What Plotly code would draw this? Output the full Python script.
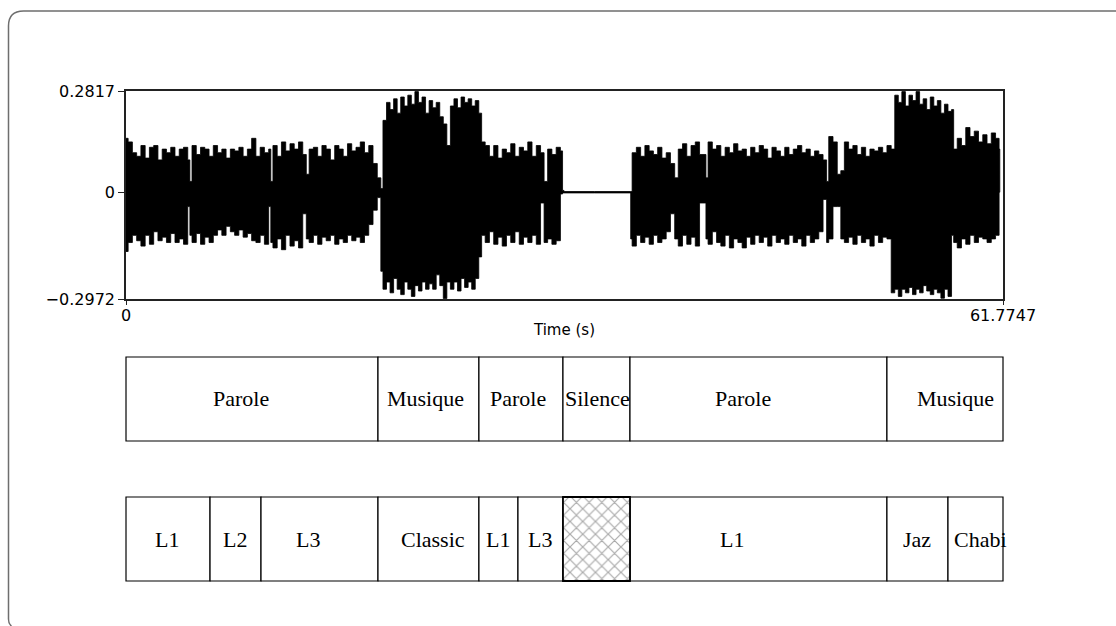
import plotly.graph_objects as go

# ---- waveform envelope (time in s, upper / lower peak amplitude) ----
wave_t = [
    0.00, 0.15, 0.45, 0.75, 1.05, 1.35, 1.65, 1.95, 2.25, 2.55, 2.85, 3.15, 3.45, 3.75, 4.05, 4.35,
    4.50, 4.65, 4.95, 5.25, 5.55, 5.85, 6.15, 6.45, 6.75, 7.05, 7.35, 7.65, 7.95, 8.25, 8.55, 8.85,
    9.15, 9.45, 9.75, 10.05, 10.20, 10.35, 10.65, 10.95, 11.25, 11.55, 11.85, 12.15, 12.45, 12.70,
    12.90, 13.20, 13.50, 13.80, 14.10, 14.40, 14.70, 15.00, 15.30, 15.60, 15.90, 16.20, 16.50, 16.80,
    17.10, 17.40, 17.70, 17.95,
    18.10, 18.35, 18.60, 18.85, 19.10, 19.35, 19.60, 19.85, 20.10, 20.35, 20.60, 20.85, 21.10, 21.35,
    21.60, 21.85, 22.10, 22.35, 22.60, 22.85, 23.10, 23.35, 23.60, 23.85, 24.10, 24.35, 24.60, 24.85,
    25.05,
    25.30, 25.60, 25.90, 26.20, 26.50, 26.80, 27.10, 27.40, 27.70, 28.00, 28.30, 28.60, 28.90, 29.20,
    29.45, 29.70, 30.00, 30.30, 30.60, 30.75,
    30.85, 33.00, 35.55,
    35.65, 35.95, 36.25, 36.55, 36.85, 37.15, 37.45, 37.75, 38.05, 38.35, 38.65, 38.90, 39.20, 39.50,
    39.80, 40.10, 40.40, 40.85, 41.00, 41.30, 41.60, 41.90, 42.20, 42.50, 42.80, 43.10, 43.40, 43.70,
    44.00, 44.30, 44.60, 44.90, 45.20, 45.50, 45.80, 46.10, 46.40, 46.70, 47.00, 47.30, 47.60, 47.90,
    48.20, 48.50, 48.80, 49.10, 49.35, 49.50, 49.80, 50.10, 50.35, 50.60, 50.90, 51.20, 51.50, 51.80,
    52.10, 52.40, 52.70, 53.00, 53.30, 53.60, 53.90,
    54.15, 54.40, 54.65, 54.90, 55.15, 55.40, 55.65, 55.90, 56.15, 56.40, 56.65, 56.90, 57.15, 57.40,
    57.65, 57.90, 58.15,
    58.30, 58.55, 58.85, 59.15, 59.45, 59.75, 60.05, 60.35, 60.65, 60.95, 61.25, 61.50, 61.55,
]
wave_hi = [
    0.150, 0.140, 0.110, 0.100, 0.130, 0.095, 0.125, 0.130, 0.090, 0.120, 0.110, 0.125, 0.100, 0.120, 0.125, 0.090,
    0.030, 0.130, 0.105, 0.125, 0.120, 0.100, 0.130, 0.110, 0.120, 0.095, 0.120, 0.115, 0.125, 0.100, 0.120, 0.150,
    0.100, 0.125, 0.110, 0.120, 0.030, 0.130, 0.100, 0.140, 0.115, 0.135, 0.120, 0.140, 0.105, 0.050,
    0.120, 0.125, 0.100, 0.130, 0.120, 0.090, 0.130, 0.120, 0.100, 0.135, 0.115, 0.125, 0.140, 0.110,
    0.130, 0.080, 0.040, 0.010,
    0.200, 0.250, 0.230, 0.260, 0.220, 0.265, 0.240, 0.270, 0.245, 0.280, 0.250, 0.265, 0.220, 0.255,
    0.235, 0.250, 0.210, 0.190, 0.130, 0.240, 0.260, 0.235, 0.265, 0.250, 0.260, 0.240, 0.255, 0.220,
    0.140,
    0.130, 0.100, 0.130, 0.095, 0.120, 0.110, 0.135, 0.100, 0.125, 0.115, 0.140, 0.100, 0.130, 0.110,
    0.030, 0.120, 0.105, 0.125, 0.115, 0.005,
    0.002, 0.002, 0.002,
    0.110, 0.125, 0.100, 0.130, 0.115, 0.105, 0.125, 0.095, 0.110, 0.080, 0.040, 0.120, 0.135, 0.100,
    0.130, 0.140, 0.105, 0.040, 0.140, 0.120, 0.130, 0.100, 0.125, 0.110, 0.135, 0.115, 0.120, 0.100,
    0.125, 0.110, 0.130, 0.120, 0.095, 0.125, 0.115, 0.100, 0.125, 0.105, 0.120, 0.130, 0.110, 0.120,
    0.100, 0.115, 0.105, 0.090, 0.030, 0.155, 0.140, 0.050, 0.060, 0.140, 0.120, 0.130, 0.105, 0.125,
    0.100, 0.120, 0.115, 0.125, 0.110, 0.130, 0.120,
    0.270, 0.250, 0.280, 0.240, 0.270, 0.255, 0.280, 0.245, 0.260, 0.230, 0.265, 0.240, 0.255, 0.220,
    0.245, 0.225, 0.230,
    0.120, 0.150, 0.130, 0.180, 0.155, 0.170, 0.140, 0.160, 0.135, 0.165, 0.150, 0.120, 0.000,
]
wave_lo = [
    -0.120, -0.165, -0.140, -0.120, -0.135, -0.150, -0.120, -0.145, -0.110, -0.135, -0.125, -0.140, -0.115, -0.140, -0.130, -0.145,
    -0.040, -0.120, -0.140, -0.115, -0.145, -0.125, -0.140, -0.120, -0.105, -0.120, -0.095, -0.110, -0.120, -0.105, -0.125, -0.115,
    -0.135, -0.140, -0.120, -0.145, -0.040, -0.140, -0.155, -0.130, -0.160, -0.120, -0.150, -0.135, -0.155, -0.060,
    -0.130, -0.140, -0.120, -0.145, -0.125, -0.135, -0.120, -0.145, -0.130, -0.140, -0.120, -0.135, -0.125, -0.140,
    -0.120, -0.090, -0.050, -0.015,
    -0.220, -0.270, -0.250, -0.280, -0.240, -0.270, -0.285, -0.250, -0.270, -0.290, -0.260, -0.275, -0.250, -0.270,
    -0.255, -0.270, -0.230, -0.260, -0.296, -0.250, -0.270, -0.250, -0.275, -0.240, -0.265, -0.250, -0.270, -0.240,
    -0.180,
    -0.120, -0.140, -0.110, -0.145, -0.125, -0.150, -0.120, -0.140, -0.110, -0.145, -0.125, -0.140, -0.120, -0.145,
    -0.030, -0.140, -0.130, -0.145, -0.135, -0.005,
    -0.002, -0.002, -0.002,
    -0.130, -0.150, -0.120, -0.140, -0.125, -0.145, -0.120, -0.140, -0.130, -0.110, -0.060, -0.130, -0.150, -0.120,
    -0.145, -0.125, -0.150, -0.030, -0.130, -0.145, -0.110, -0.140, -0.150, -0.120, -0.155, -0.130, -0.140, -0.155,
    -0.125, -0.145, -0.120, -0.140, -0.125, -0.150, -0.120, -0.140, -0.130, -0.145, -0.120, -0.140, -0.130, -0.150,
    -0.120, -0.140, -0.130, -0.110, -0.020, -0.140, -0.130, -0.040, -0.040, -0.130, -0.140, -0.125, -0.145, -0.120,
    -0.140, -0.130, -0.150, -0.120, -0.140, -0.125, -0.130,
    -0.280, -0.270, -0.290, -0.270, -0.280, -0.265, -0.285, -0.270, -0.280, -0.260, -0.275, -0.285, -0.270, -0.280,
    -0.295, -0.270, -0.290,
    -0.120, -0.140, -0.155, -0.130, -0.145, -0.120, -0.140, -0.125, -0.130, -0.140, -0.130, -0.120, 0.000,
]

T_END = 61.7747
Y_MIN, Y_MAX = -0.2972, 0.2817

# ---- segmentation rows ----
class_labels = ["Parole", "Musique", "Parole", "Silence", "Parole", "Musique"]
class_bounds = [0.0, 17.75, 24.86, 30.78, 35.50, 53.60, T_END]

sub_labels = ["L1", "L2", "L3", "Classic", "L1", "L3", "", "L1", "Jaz", "Chabi"]
sub_bounds = [0.0, 5.92, 9.51, 17.75, 24.86, 27.61, 30.78, 35.50, 53.60, 57.90, T_END]
sub_hatched = [False, False, False, False, False, False, True, False, False, False]

# ---- page geometry helpers (pixels -> paper fractions) ----
W, H = 1116, 626
def px(x):
    return x / W
def py(y):
    return 1 - y / H

X0, X1 = 126, 1003
scale = (X1 - X0) / T_END          # pixels per second
pad_s = 1.0                        # extra time on each side of the row axes

fig = go.Figure()

# waveform as a filled, stepped envelope
fig.add_trace(go.Scatter(
    x=wave_t + wave_t[::-1],
    y=wave_hi + wave_lo[::-1],
    fill="toself", fillcolor="black",
    line=dict(color="black", width=0.8, shape="hv"),
    mode="lines", hoverinfo="skip",
    xaxis="x", yaxis="y",
))

serif = dict(family="Liberation Serif", size=22, color="black")

def add_row(labels, bounds, yaxis, hatched, shifts):
    starts = bounds[:-1]
    ends = bounds[1:]
    centers = [(a + b) / 2 for a, b in zip(starts, ends)]
    widths = [b - a for a, b in zip(starts, ends)]
    plain = [i for i in range(len(labels)) if not hatched[i]]
    fig.add_trace(go.Bar(
        x=[centers[i] for i in plain], width=[widths[i] for i in plain],
        y=[1] * len(plain), base=0,
        marker=dict(color="white", line=dict(color="black", width=1.2)),
        xaxis="x2", yaxis=yaxis, hoverinfo="skip",
    ))
    hat = [i for i in range(len(labels)) if hatched[i]]
    if hat:
        fig.add_trace(go.Bar(
            x=[centers[i] for i in hat], width=[widths[i] for i in hat],
            y=[1] * len(hat), base=0,
            marker=dict(color="white",
                        line=dict(color="black", width=1.8),
                        pattern=dict(shape="x", fgcolor="#555555", bgcolor="white",
                                     size=9, solidity=0.25)),
            xaxis="x2", yaxis=yaxis, hoverinfo="skip",
        ))
    for i, lab in enumerate(labels):
        if lab:
            fig.add_annotation(x=centers[i], y=0.5, xref="x2", yref=yaxis,
                               text=lab, showarrow=False, font=serif,
                               xshift=shifts[i])

add_row(class_labels, class_bounds, "y2", [False] * len(class_labels),
        [-11, -3, -3, 1, -15, 11])
add_row(sub_labels, sub_bounds, "y3", sub_hatched,
        [-1, -1, -12, 5, 0, 0, 0, -26, 0, 5])

axis_font = dict(family="DejaVu Sans", size=16, color="black")

fig.update_layout(
    width=W, height=H, autosize=False,
    margin=dict(l=0, r=0, t=0, b=0, autoexpand=False),
    paper_bgcolor="white", plot_bgcolor="white",
    showlegend=False, barmode="overlay",
    xaxis=dict(
        domain=[px(X0), px(X1)], range=[0, T_END], anchor="y",
        showline=True, mirror=True, linecolor="#222", linewidth=1.6,
        ticks="outside", ticklen=4, tickcolor="#222", tickwidth=1.2,
        tickvals=[0, T_END], ticktext=["0", "61.7747"], ticklabelstandoff=-3,
        tickfont=axis_font, showgrid=False, zeroline=False, automargin=False,
        title=dict(text="Time (s)", font=dict(family="DejaVu Sans", size=15, color="black"),
                   standoff=0),
    ),
    yaxis=dict(
        domain=[py(299), py(91)], range=[Y_MIN, Y_MAX], anchor="x",
        showline=True, mirror=True, linecolor="#222", linewidth=1.6,
        ticks="outside", ticklen=6, tickcolor="#222", tickwidth=1.2,
        tickvals=[Y_MIN, 0, Y_MAX], ticktext=["\u22120.2972", "0", "0.2817"],
        tickfont=axis_font, showgrid=False, zeroline=False, automargin=False,
    ),
    xaxis2=dict(
        domain=[px(X0 - pad_s * scale), px(X1 + pad_s * scale)],
        range=[-pad_s, T_END + pad_s], anchor="y2", visible=False,
    ),
    yaxis2=dict(domain=[py(442), py(356)], range=[-0.012, 1.012], anchor="x2", visible=False),
    yaxis3=dict(domain=[py(582), py(496)], range=[-0.012, 1.012], anchor="x2", visible=False),
)

# rounded outer frame; its right and bottom sides lie past the page edge
r = 15
L, T = 8.5, 11
frame = (f"M {px(W)},{py(T)} L {px(L + r)},{py(T)} "
         f"Q {px(L)},{py(T)} {px(L)},{py(T + r)} "
         f"L {px(L)},{py(H - 7)} Q {px(L)},{py(H - 2)} {px(L + 3)},{py(H)}")
fig.add_shape(type="path", path=frame, xref="paper", yref="paper",
              line=dict(color="#6e6e6e", width=1.5), layer="below")

fig.write_html(
    "out.html",
    config={"responsive": False},
    post_script="document.body.style.margin='0';document.body.style.overflow='hidden';",
)
